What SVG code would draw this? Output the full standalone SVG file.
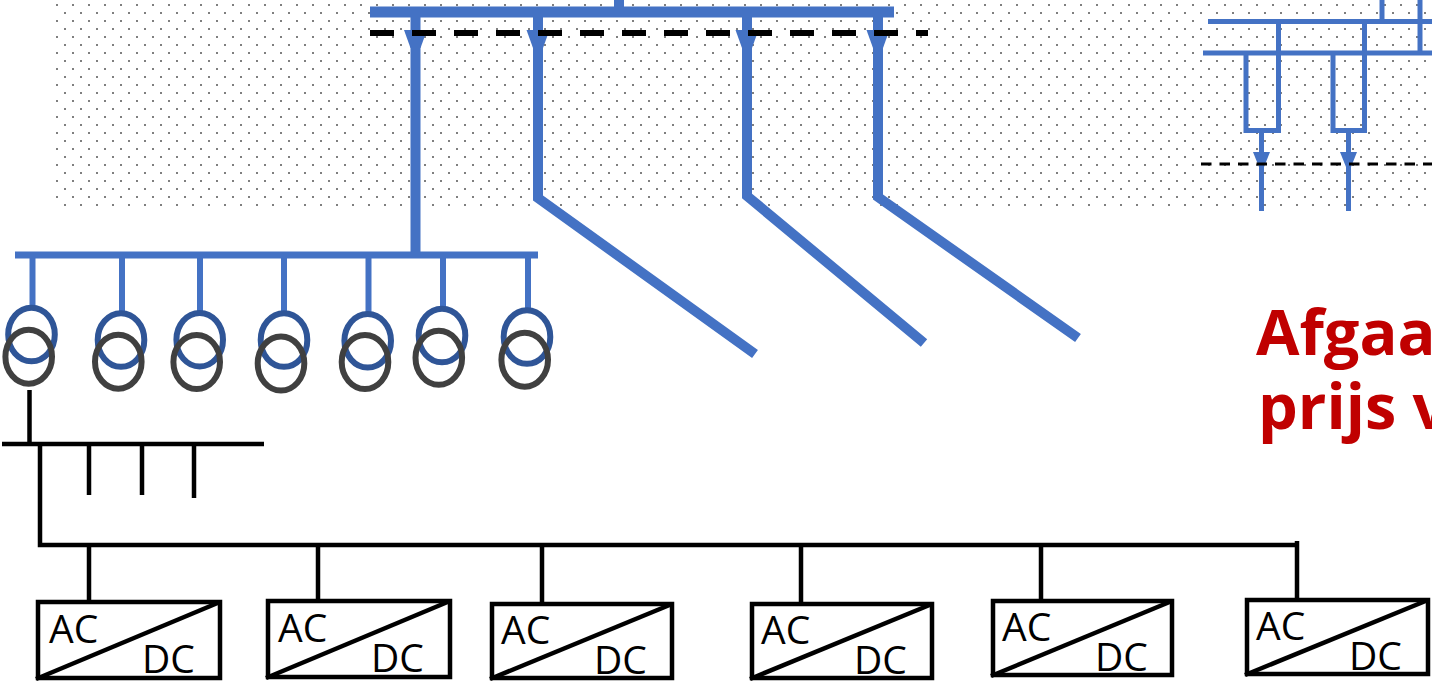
<svg xmlns="http://www.w3.org/2000/svg" width="1432" height="684" viewBox="0 0 1432 684">
<style>
.bl{stroke:#4472C4;fill:none;stroke-linecap:butt}
.bk{stroke:#000;fill:none;stroke-width:4.5}
.tb{stroke:#2F5597;fill:none;stroke-width:6}
.tg{stroke:#404040;fill:none;stroke-width:6}
.ar{fill:#4472C4}
.box{fill:#fff;stroke:#000;stroke-width:4.5}
.t{font-family:"Open Sans","Liberation Sans",sans-serif;font-size:39px;fill:#000}
.red{font-family:"Open Sans","Liberation Sans",sans-serif;font-size:63px;font-weight:bold;fill:#C00000}
</style>
<defs>
<pattern id="dots" x="56" y="4" width="16" height="16" patternUnits="userSpaceOnUse">
<rect x="0" y="0" width="2" height="2" fill="#7F7F7F"/>
<rect x="8" y="8" width="2" height="2" fill="#7F7F7F"/>
</pattern>
</defs>
<rect width="1432" height="684" fill="#fff"/>
<rect x="55" y="0" width="1377" height="207" fill="url(#dots)"/>

<g id="connectors">
<!-- top HV bus -->
<line class="bl" x1="370" y1="12" x2="894" y2="12" stroke-width="11"/>
<line class="bl" x1="619" y1="0" x2="619" y2="12" stroke-width="10"/>
<line class="bl" x1="415.5" y1="12" x2="415.5" y2="258" stroke-width="10"/>
<polyline class="bl" points="538,12 538,198 755,354" stroke-width="10"/>
<polyline class="bl" points="747,12 747,196 924,343" stroke-width="10"/>
<polyline class="bl" points="878,12 878,197 1078,338" stroke-width="10"/>
<polygon class="ar" points="404,30 427,30 420.5,48 410.5,48"/>
<polygon class="ar" points="526.5,30 549.5,30 543,48 533,48"/>
<polygon class="ar" points="735.5,30 758.5,30 752,48 742,48"/>
<polygon class="ar" points="866.5,30 889.5,30 883,48 873,48"/>
<line x1="370" y1="33" x2="928" y2="33" stroke="#000" stroke-width="6" stroke-dasharray="24 18"/>

<!-- top right substation -->
<line class="bl" x1="1208" y1="21.5" x2="1432" y2="21.5" stroke-width="5"/>
<line class="bl" x1="1203" y1="53" x2="1432" y2="53" stroke-width="5"/>
<line class="bl" x1="1382" y1="0" x2="1382" y2="21.5" stroke-width="5"/>
<line class="bl" x1="1420" y1="0" x2="1420" y2="53" stroke-width="5"/>
<polyline class="bl" points="1278.5,21.5 1278.5,130.5 1246,130.5 1246,53" stroke-width="5"/>
<polyline class="bl" points="1364.5,21.5 1364.5,130.5 1333,130.5 1333,53" stroke-width="5"/>
<line class="bl" x1="1261.5" y1="130.5" x2="1261.5" y2="211" stroke-width="5"/>
<line class="bl" x1="1348.5" y1="130.5" x2="1348.5" y2="211" stroke-width="5"/>
<polygon class="ar" points="1253,152 1270,152 1264,167 1259,167"/>
<polygon class="ar" points="1340,152 1357,152 1351,167 1346,167"/>
<line x1="1201" y1="164" x2="1432" y2="164" stroke="#000" stroke-width="3" stroke-dasharray="10.5 8"/>

<!-- MV bus -->
<line class="bl" x1="15" y1="255" x2="538" y2="255" stroke-width="7"/>
<line class="bl" x1="32.5" y1="255" x2="32.5" y2="308" stroke-width="6"/>
<line class="bl" x1="122" y1="255" x2="122" y2="313" stroke-width="6"/>
<line class="bl" x1="200" y1="255" x2="200" y2="313" stroke-width="6"/>
<line class="bl" x1="284" y1="255" x2="284" y2="313" stroke-width="6"/>
<line class="bl" x1="368.5" y1="255" x2="368.5" y2="314" stroke-width="6"/>
<line class="bl" x1="443" y1="255" x2="443" y2="309" stroke-width="6"/>
<line class="bl" x1="528" y1="255" x2="528" y2="310" stroke-width="6"/>

<!-- LV side -->
<line class="bk" x1="29.5" y1="390" x2="29.5" y2="442"/>
<line class="bk" x1="2" y1="444" x2="264" y2="444"/>
<line class="bk" x1="89" y1="444" x2="89" y2="495"/>
<line class="bk" x1="142" y1="444" x2="142" y2="495"/>
<line class="bk" x1="194" y1="444" x2="194" y2="498"/>
<polyline class="bk" points="40,444 40,545 1297,545"/>
<line class="bk" x1="1297" y1="541" x2="1297" y2="600"/>
<line class="bk" x1="89" y1="545" x2="89" y2="602"/>
<line class="bk" x1="318" y1="545" x2="318" y2="601"/>
<line class="bk" x1="542" y1="545" x2="542" y2="604"/>
<line class="bk" x1="801" y1="545" x2="801" y2="604"/>
<line class="bk" x1="1041" y1="545" x2="1041" y2="601"/>
</g>

<g id="transformer1"><ellipse class="tb" cx="31.5" cy="334.5" rx="23.3" ry="26.8"/><ellipse class="tg" cx="28.7" cy="356.7" rx="23.3" ry="27"/></g>
<g id="transformer2"><ellipse class="tb" cx="121" cy="340" rx="23.3" ry="26.8"/><ellipse class="tg" cx="118.3" cy="361.7" rx="23.3" ry="27"/></g>
<g id="transformer3"><ellipse class="tb" cx="199.7" cy="339.7" rx="23.3" ry="26.8"/><ellipse class="tg" cx="196.7" cy="362" rx="23.3" ry="27"/></g>
<g id="transformer4"><ellipse class="tb" cx="284" cy="340" rx="23.3" ry="26.8"/><ellipse class="tg" cx="281" cy="363.5" rx="23.3" ry="27"/></g>
<g id="transformer5"><ellipse class="tb" cx="367.7" cy="340.8" rx="23.3" ry="26.8"/><ellipse class="tg" cx="365" cy="362" rx="23.3" ry="27"/></g>
<g id="transformer6"><ellipse class="tb" cx="442" cy="335.5" rx="23.3" ry="26.8"/><ellipse class="tg" cx="438.8" cy="357.8" rx="23.3" ry="27"/></g>
<g id="transformer7"><ellipse class="tb" cx="527" cy="337" rx="23.3" ry="26.8"/><ellipse class="tg" cx="524.7" cy="359.7" rx="23.3" ry="27"/></g>

<g id="converter1"><rect class="box" x="38" y="602" width="182" height="76"/><line class="bk" x1="36" y1="679" x2="220" y2="602"/><text class="t" x="49" y="643">AC</text><text class="t" x="142" y="673">DC</text></g>
<g id="converter2"><rect class="box" x="268" y="601" width="182" height="76"/><line class="bk" x1="266" y1="678" x2="450" y2="601"/><text class="t" x="278" y="642">AC</text><text class="t" x="371" y="672">DC</text></g>
<g id="converter3"><rect class="box" x="492" y="604" width="180" height="74"/><line class="bk" x1="490" y1="679" x2="672" y2="604"/><text class="t" x="501" y="644">AC</text><text class="t" x="594" y="674">DC</text></g>
<g id="converter4"><rect class="box" x="752" y="604" width="180" height="74"/><line class="bk" x1="750" y1="679" x2="932" y2="604"/><text class="t" x="761" y="644">AC</text><text class="t" x="854" y="674">DC</text></g>
<g id="converter5"><rect class="box" x="993" y="601" width="179" height="74"/><line class="bk" x1="991" y1="676" x2="1172" y2="601"/><text class="t" x="1002" y="641">AC</text><text class="t" x="1095" y="671">DC</text></g>
<g id="converter6"><rect class="box" x="1247" y="600" width="181" height="74"/><line class="bk" x1="1245" y1="675" x2="1428" y2="600"/><text class="t" x="1256" y="640">AC</text><text class="t" x="1349" y="670">DC</text></g>

<g id="label"><text class="red" x="1256" y="355">Afgaa</text><text class="red" x="1258" y="429">prijs v</text></g>
</svg>
